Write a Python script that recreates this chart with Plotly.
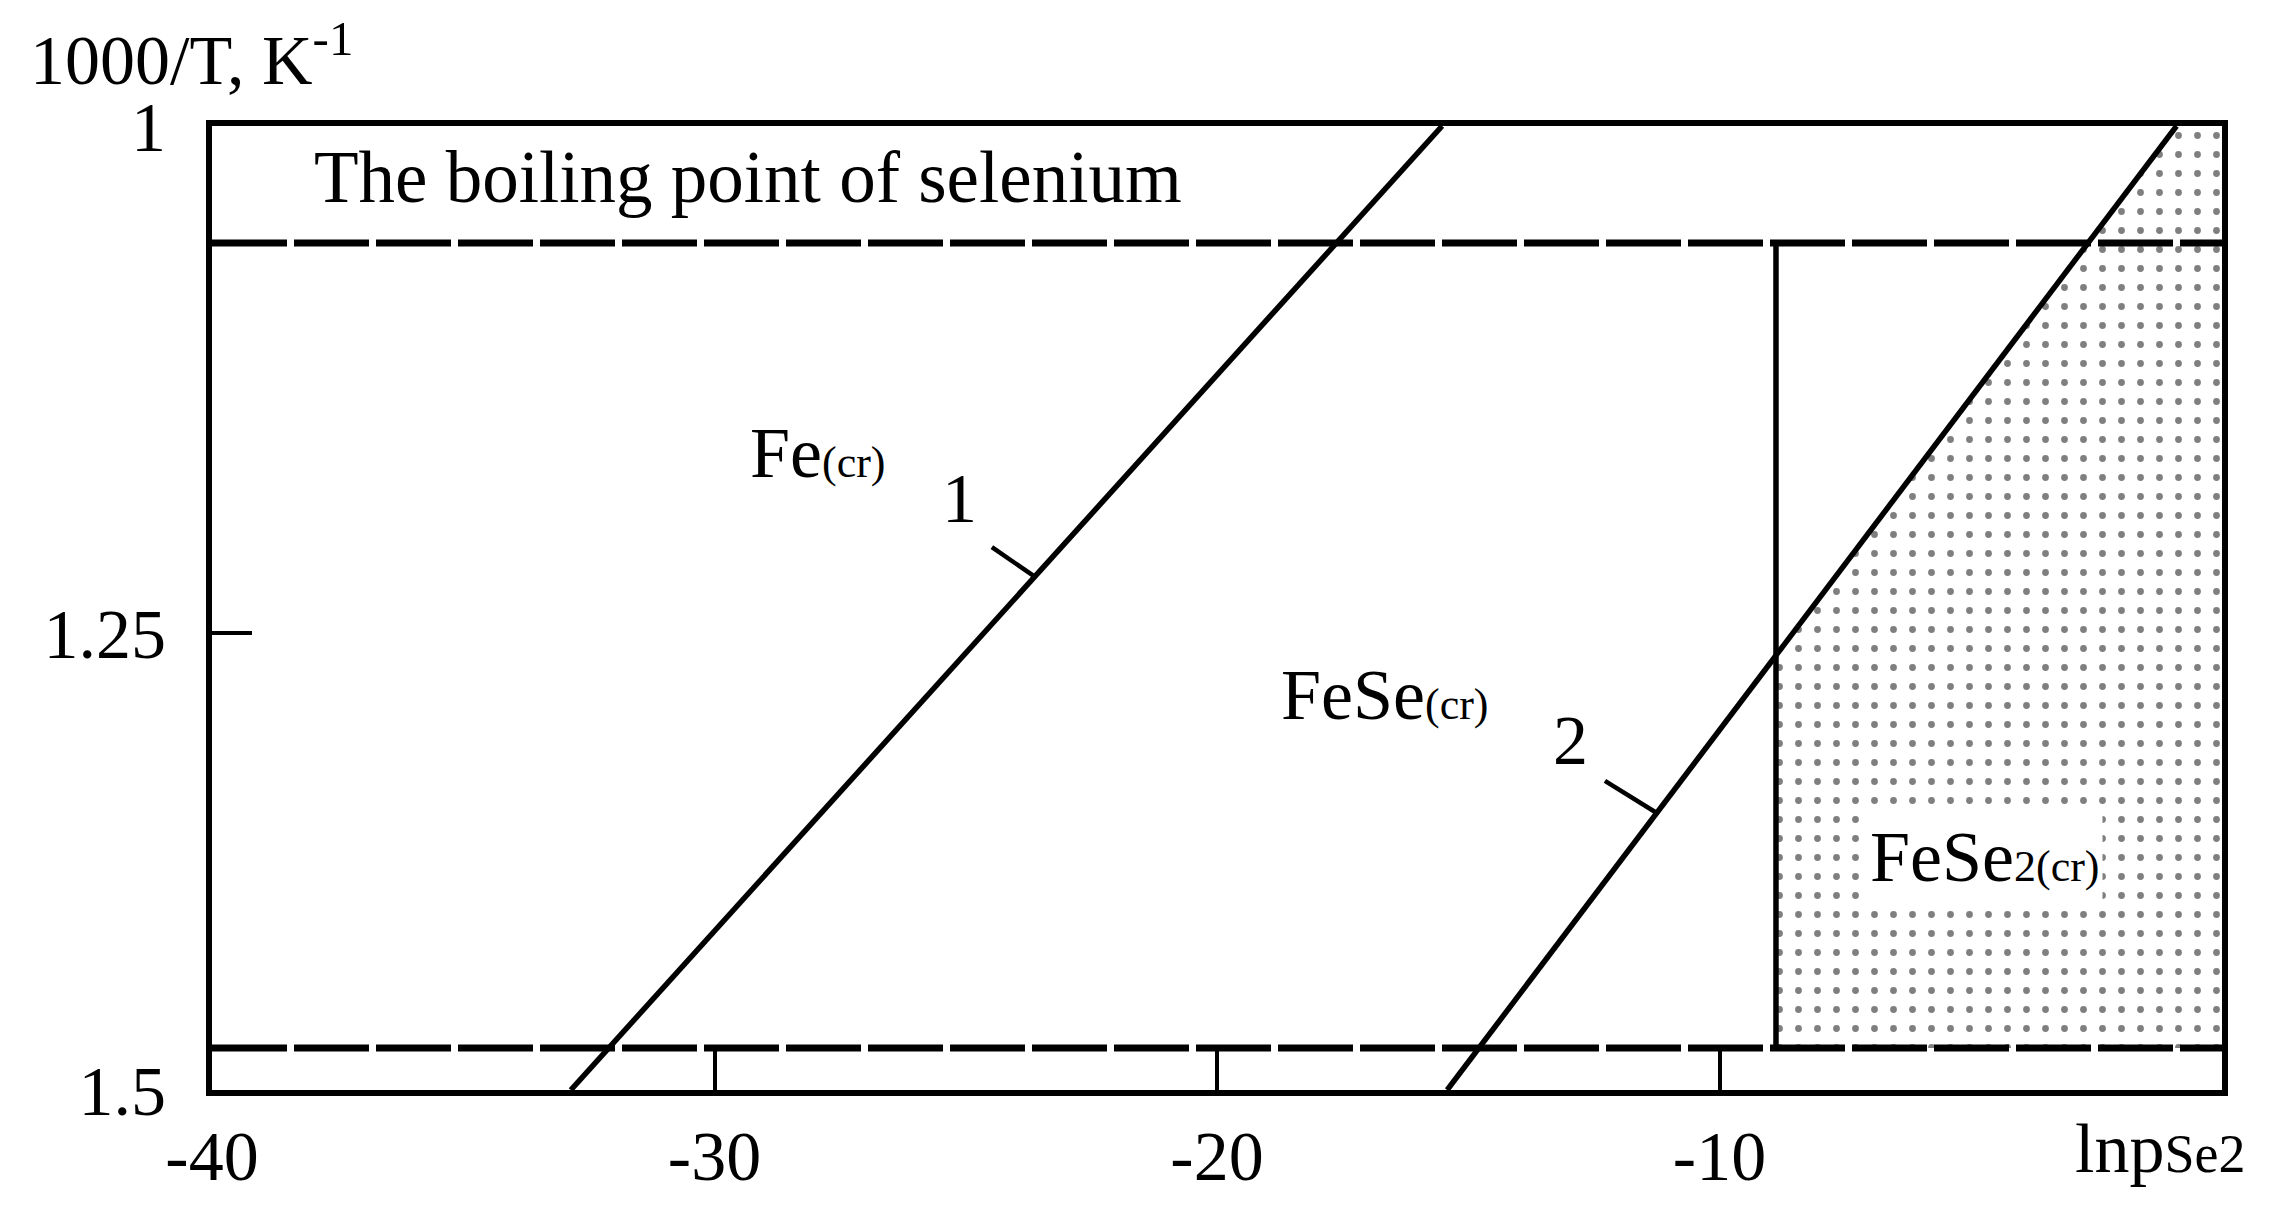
import plotly.graph_objects as go

# axis ticks
x_tick_vals = [-40, -30, -20, -10]
x_tick_text = ["-40", "-30", "-20", "-10"]
y_tick_vals = [1.0, 1.2632, 1.5]
y_tick_text = ["1", "1.25", "1.5"]

# boundary lines (lnp_Se2 vs 1000/T)
line1_x = [-32.86, -15.52]
line1_y = [1.5, 1.0]
line2_x = [-15.42, -0.905]
line2_y = [1.5, 1.0]

# horizontal dashed limits and vertical FeSe/FeSe2 boundary
boiling_y = 1.0607
lower_y = 1.4782
vert_x = -8.876

# short leader ticks for the "1" and "2" labels
leader1_x = [-24.48, -23.62]
leader1_y = [1.2184, 1.2339]
leader2_x = [-12.28, -11.28]
leader2_y = [1.3397, 1.3558]

FONT = "Liberation Serif"

# FeSe2 region: right of the vertical line and of line 2
slope = (line2_y[1] - line2_y[0]) / (line2_x[1] - line2_x[0])
y_cross = line2_y[0] + slope * (vert_x - line2_x[0])
region_x = [vert_x, 0, 0, line2_x[1], vert_x]
region_y = [lower_y, lower_y, 1.0, line2_y[1], y_cross]

fig = go.Figure()

fig.add_trace(go.Scatter(x=region_x, y=region_y, mode="lines", fill="toself",
                         line=dict(width=0, color="rgba(0,0,0,0)"),
                         fillcolor="white",
                         fillpattern=dict(shape=".", fgcolor="black", bgcolor="white",
                                          size=19, solidity=0.1),
                         hoverinfo="skip"))

for xs, ys, w in [(line1_x, line1_y, 5.5), (line2_x, line2_y, 5.5),
                  (leader1_x, leader1_y, 4.5), (leader2_x, leader2_y, 4.5),
                  ([vert_x, vert_x], [boiling_y, lower_y], 5.5)]:
    fig.add_trace(go.Scatter(x=xs, y=ys, mode="lines", line=dict(color="black", width=w),
                             hoverinfo="skip"))

for yy in [boiling_y, lower_y]:
    fig.add_trace(go.Scatter(x=[-40, 0], y=[yy, yy], mode="lines",
                             line=dict(color="black", width=7, dash="75px,7px"),
                             hoverinfo="skip"))

def label(x, y, text, size=72, bg=None):
    fig.add_annotation(x=x, y=y, xref="x", yref="y", text=text, showarrow=False,
                       xanchor="left", yanchor="middle",
                       font=dict(family=FONT, size=size, color="black"),
                       bgcolor=bg, borderpad=2)

label(-38.03, 1.0265, "The boiling point of selenium", size=73)
label(-29.36, 1.1697, 'Fe<span style="font-size:44px">(cr)</span>')
label(-25.54, 1.1930, "1", size=70)
label(-18.79, 1.2952, 'FeSe<span style="font-size:44px">(cr)</span>')
label(-13.37, 1.3185, "2", size=70)
label(-7.06, 1.3792, 'FeSe<span style="font-size:44px">2(cr)</span>', bg="white")

fig.add_annotation(x=-0.0915, y=1.0735, xref="paper", yref="paper",
                   text="1000/T, K<sup>-1</sup>", showarrow=False,
                   xanchor="left", yanchor="middle",
                   font=dict(family=FONT, size=70, color="black"))
fig.add_annotation(x=0.926, y=-0.0602, xref="paper", yref="paper",
                   text='lnp<span style="font-size:54px">Se2</span>', showarrow=False,
                   xanchor="left", yanchor="middle",
                   font=dict(family=FONT, size=70, color="black"))

axis_common = dict(showgrid=False, zeroline=False, showline=True, linecolor="black",
                   linewidth=6, mirror=True, ticks="inside", tickcolor="black",
                   tickwidth=4, tickfont=dict(family=FONT, size=70, color="black"))

fig.update_xaxes(range=[-40, 0], tickmode="array", tickvals=x_tick_vals,
                 ticktext=x_tick_text, ticklen=42, **axis_common)
fig.update_yaxes(range=[1.5, 1.0], tickmode="array", tickvals=y_tick_vals,
                 ticktext=y_tick_text, ticklen=40, ticklabelstandoff=26, **axis_common)

fig.update_layout(width=2270, height=1205, autosize=False, showlegend=False,
                  plot_bgcolor="white", paper_bgcolor="white",
                  margin=dict(l=204, r=56, t=118, b=123))

fig.write_html("out.html")
